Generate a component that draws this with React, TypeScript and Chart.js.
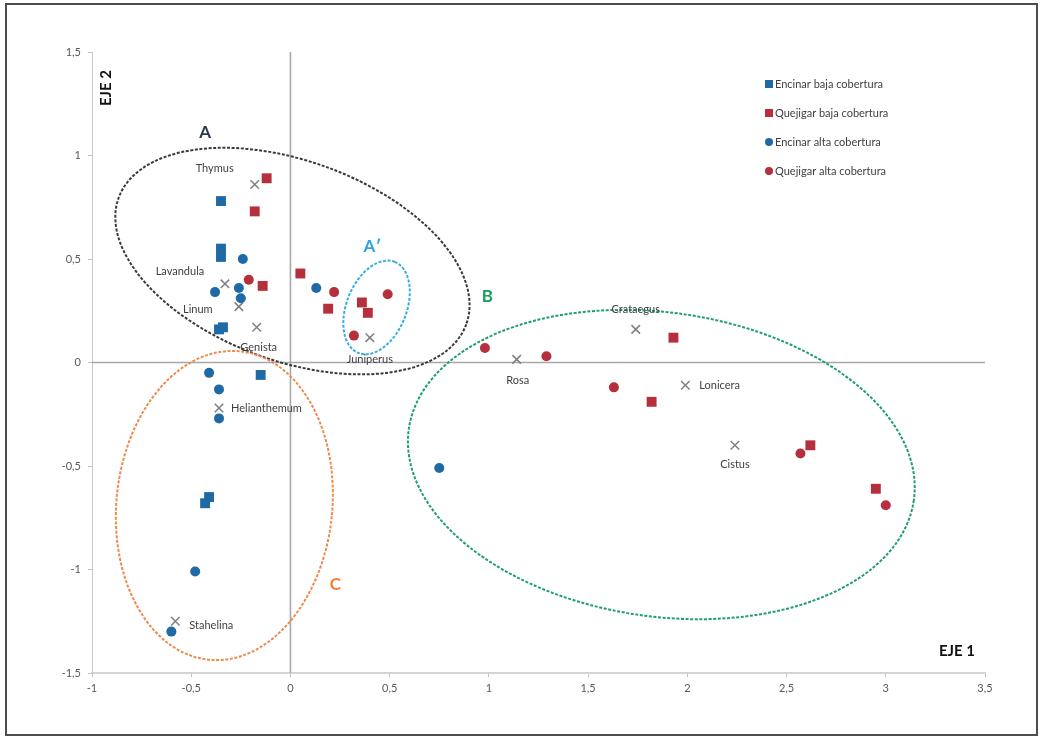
import React, { useEffect, useRef } from "react";
import { Chart, registerables } from "chart.js";

Chart.register(...registerables);

// Scores on the two ordination axes (EJE 1, EJE 2)
const encinarBajaX = [-0.35, -0.35, -0.35, -0.36, -0.34, -0.15, -0.41, -0.43];
const encinarBajaY = [0.78, 0.55, 0.51, 0.16, 0.17, -0.06, -0.65, -0.68];

const quejigarBajaX = [-0.12, -0.18, -0.14, 0.05, 0.19, 0.36, 0.39, 1.93, 1.82, 2.62, 2.95];
const quejigarBajaY = [0.89, 0.73, 0.37, 0.43, 0.26, 0.29, 0.24, 0.12, -0.19, -0.4, -0.61];

const encinarAltaX = [-0.24, -0.38, -0.26, -0.25, 0.13, -0.41, -0.36, -0.36, 0.75, -0.48, -0.6];
const encinarAltaY = [0.5, 0.34, 0.36, 0.31, 0.36, -0.05, -0.13, -0.27, -0.51, -1.01, -1.3];

const quejigarAltaX = [-0.21, 0.22, 0.49, 0.32, 0.98, 1.29, 1.63, 2.57, 3.0];
const quejigarAltaY = [0.4, 0.34, 0.33, 0.13, 0.07, 0.03, -0.12, -0.44, -0.69];

// Species centroids
const speciesNames = [
  "Thymus", "Lavandula", "Linum", "Genista", "Juniperus", "Helianthemum",
  "Stahelina", "Rosa", "Crataegus", "Lonicera", "Cistus",
];
const speciesX = [-0.18, -0.33, -0.26, -0.17, 0.4, -0.36, -0.58, 1.14, 1.74, 1.99, 2.24];
const speciesY = [0.86, 0.38, 0.27, 0.17, 0.12, -0.22, -1.25, 0.015, 0.16, -0.11, -0.4];

// Axis ranges and tick step
const xRange = [-1, 3.5];
const yRange = [-1.5, 1.5];
const tickStep = 0.5;

const seriesLabels = [
  "Encinar baja cobertura",
  "Quejigar baja cobertura",
  "Encinar alta cobertura",
  "Quejigar alta cobertura",
];

const BLUE = "#1f6aa5";
const RED = "#b5303c";
const GREY_X = "#7f7f7f";

// Label placement for each species name: [dx, dy, align] in pixels
const speciesLabelPlacement: [number, number, CanvasTextAlign][] = [
  [-40, -16, "center"],
  [-45, -12, "center"],
  [-41, 3, "center"],
  [2, 20, "center"],
  [0, 22, "center"],
  [12, 0, "left"],
  [14, 4, "left"],
  [1, 21, "center"],
  [0, -20, "center"],
  [14, 0, "left"],
  [0, 19, "center"],
];

// Group envelopes: centre in data units, radii in x-axis units, rotation in radians
const groups = [
  { name: "A", cx: 0.01, cy: 0.49, rx: 0.932, ry: 0.504, rot: 0.349, color: "#3a3a3a", lx: -0.43, ly: 1.11, lcolor: "#2e3650" },
  { name: "A\u2032", cx: 0.434, cy: 0.266, rx: 0.247, ry: 0.151, rot: -1.19, color: "#35aee2", lx: 0.413, ly: 0.56, lcolor: "#2aa6de" },
  { name: "B", cx: 1.869, cy: -0.493, rx: 1.285, ry: 0.766, rot: 0.14, color: "#1f9e6e", lx: 0.992, ly: 0.319, lcolor: "#1a9a5c" },
  { name: "C", cx: -0.333, cy: -0.691, rx: 0.544, ry: 0.781, rot: 0.1, color: "#ee8a4e", lx: 0.227, ly: -1.072, lcolor: "#ef8038" },
];

const toPoints = (xs: number[], ys: number[]) => xs.map((x, i) => ({ x, y: ys[i] }));
const fmt = (v: number) => String(Math.round(v * 10) / 10).replace(".", ",");

const FONT = "Lato, 'Open Sans', sans-serif";

const decorPlugin = {
  id: "decor",
  beforeDatasetsDraw(chart: any) {
    const { ctx, chartArea, scales } = chart;
    const xs = scales.x;
    const ys = scales.y;
    const unit = xs.getPixelForValue(1) - xs.getPixelForValue(0);
    ctx.save();
    // zero lines
    ctx.strokeStyle = "#a8a8a8";
    ctx.lineWidth = 1.6;
    const x0 = xs.getPixelForValue(0);
    const y0 = ys.getPixelForValue(0);
    ctx.beginPath();
    ctx.moveTo(x0, chartArea.top);
    ctx.lineTo(x0, chartArea.bottom);
    ctx.moveTo(chartArea.left, y0);
    ctx.lineTo(chartArea.right, y0);
    ctx.stroke();
    // group envelopes
    groups.forEach((g) => {
      ctx.beginPath();
      ctx.setLineDash([3, 1.6]);
      ctx.lineWidth = 2;
      ctx.strokeStyle = g.color;
      ctx.ellipse(xs.getPixelForValue(g.cx), ys.getPixelForValue(g.cy), g.rx * unit, g.ry * unit, g.rot, 0, Math.PI * 2);
      ctx.stroke();
    });
    ctx.setLineDash([]);
    ctx.restore();
  },
  afterDatasetsDraw(chart: any) {
    const { ctx, chartArea, scales } = chart;
    const xs = scales.x;
    const ys = scales.y;
    ctx.save();
    // species names
    ctx.font = `11px ${FONT}`;
    ctx.fillStyle = "#404040";
    ctx.textBaseline = "middle";
    speciesNames.forEach((n, i) => {
      const [dx, dy, al] = speciesLabelPlacement[i];
      ctx.textAlign = al;
      ctx.fillText(n, xs.getPixelForValue(speciesX[i]) + dx, ys.getPixelForValue(speciesY[i]) + dy);
    });
    // group letters
    ctx.font = `bold 17px ${FONT}`;
    ctx.textAlign = "center";
    groups.forEach((g) => {
      ctx.fillStyle = g.lcolor;
      ctx.fillText(g.name, xs.getPixelForValue(g.lx), ys.getPixelForValue(g.ly));
    });
    // axis titles
    ctx.fillStyle = "#111";
    ctx.font = `bold 15px ${FONT}`;
    ctx.textAlign = "right";
    ctx.fillText("EJE 1", chartArea.right - 10, chartArea.bottom - 22);
    ctx.save();
    ctx.translate(chartArea.left + 14, chartArea.top + 36);
    ctx.rotate(-Math.PI / 2);
    ctx.textAlign = "center";
    ctx.fillText("EJE 2", 0, 0);
    ctx.restore();
    // legend
    const lx = chartArea.right - 216;
    const ly = chartArea.top + 32;
    const colors = [BLUE, RED, BLUE, RED];
    ctx.font = `11px ${FONT}`;
    ctx.textAlign = "left";
    seriesLabels.forEach((lab, i) => {
      const y = ly + i * 29;
      ctx.fillStyle = colors[i];
      if (i < 2) {
        ctx.fillRect(lx - 4, y - 4, 8, 8);
      } else {
        ctx.beginPath();
        ctx.arc(lx, y, 4, 0, Math.PI * 2);
        ctx.fill();
      }
      ctx.fillStyle = "#404040";
      ctx.fillText(lab, lx + 6, y);
    });
    ctx.restore();
  },
};

export default function App() {
  const ref = useRef<HTMLCanvasElement | null>(null);
  useEffect(() => {
    if (!ref.current) return;
    const chart = new Chart(ref.current, {
      type: "scatter",
      data: {
        datasets: [
          {
            label: seriesLabels[0],
            data: toPoints(encinarBajaX, encinarBajaY),
            pointStyle: "rect",
            pointRadius: 7,
            backgroundColor: BLUE,
            borderColor: BLUE,
            borderWidth: 0,
          },
          {
            label: seriesLabels[1],
            data: toPoints(quejigarBajaX, quejigarBajaY),
            pointStyle: "rect",
            pointRadius: 7,
            backgroundColor: RED,
            borderColor: RED,
            borderWidth: 0,
          },
          {
            label: seriesLabels[2],
            data: toPoints(encinarAltaX, encinarAltaY),
            pointStyle: "circle",
            pointRadius: 5,
            backgroundColor: BLUE,
            borderColor: BLUE,
            borderWidth: 0,
          },
          {
            label: seriesLabels[3],
            data: toPoints(quejigarAltaX, quejigarAltaY),
            pointStyle: "circle",
            pointRadius: 5,
            backgroundColor: RED,
            borderColor: RED,
            borderWidth: 0,
          },
          {
            label: "Especies",
            data: toPoints(speciesX, speciesY),
            pointStyle: "crossRot",
            pointRadius: 6,
            borderColor: GREY_X,
            borderWidth: 1.5,
          },
        ],
      },
      options: {
        responsive: false,
        animation: false,
        layout: { padding: { left: 0, top: 52, right: 57, bottom: 0 } },
        plugins: { legend: { display: false }, tooltip: { enabled: false } },
        scales: {
          x: {
            type: "linear",
            min: xRange[0],
            max: xRange[1],
            ticks: {
              stepSize: tickStep,
              callback: (v: any) => fmt(Number(v)),
              color: "#595959",
              font: { family: FONT, size: 11 },
              padding: 5,
            },
            grid: { display: true, drawOnChartArea: false, drawTicks: true, tickLength: 4, color: "#bfbfbf" },
            border: { color: "#d4d4d4", width: 2 },
            afterFit: (s: any) => {
              s.height = 65;
            },
          },
          y: {
            type: "linear",
            min: yRange[0],
            max: yRange[1],
            ticks: {
              stepSize: tickStep,
              callback: (v: any) => fmt(Number(v)),
              color: "#595959",
              font: { family: FONT, size: 11 },
              padding: 7,
            },
            grid: { display: true, drawOnChartArea: false, drawTicks: true, tickLength: 4, color: "#bfbfbf" },
            border: { color: "#c8c8c8", width: 1 },
            afterFit: (s: any) => {
              s.width = 92;
            },
          },
        },
      },
      plugins: [decorPlugin],
    } as any);
    return () => chart.destroy();
  }, []);

  return (
    <div style={{ position: "fixed", left: 0, top: 0, width: 1042, height: 738, background: "#fff" }}>
      <canvas ref={ref} width={1042} height={738} style={{ position: "absolute", left: 0, top: 0, width: 1042, height: 738 }} />
      <div
        style={{
          position: "absolute",
          left: 5,
          top: 3,
          width: 1029,
          height: 729,
          border: "2px solid #4d4d4d",
          pointerEvents: "none",
        }}
      />
    </div>
  );
}
